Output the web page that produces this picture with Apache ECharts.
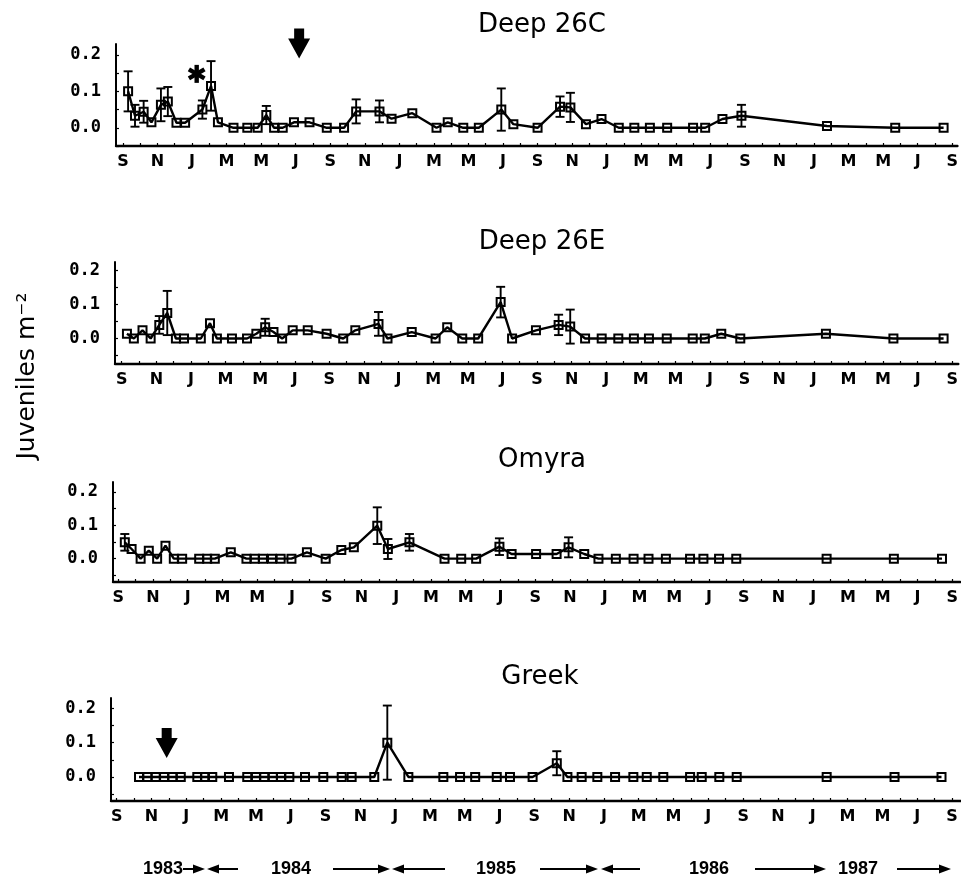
<!DOCTYPE html>
<html><head><meta charset="utf-8">
<script src="https://cdn.jsdelivr.net/npm/echarts@6/dist/echarts.min.js"></script>
<style>html,body{margin:0;padding:0;background:#fff}#c{width:961px;height:884px}</style>
</head><body><div id="c"></div>
<script>
// ---------- DATA ----------
// x = months since September 1983 (0 = S 1983, 48 = S 1987)
const monthLabels = ['S','N','J','M','M','J','S','N','J','M','M','J','S','N','J','M','M','J','S','N','J','M','M','J','S'];
const monthTickValues = Array.from({length: 49}, (_, i) => i);
const monthLabelValues = Array.from({length: 25}, (_, i) => i * 2);
const yLabelValues = [0, 0.1, 0.2];
const yTickValues = [-0.05, 0, 0.05, 0.1, 0.15, 0.2];
const siteNames = ['Deep 26C', 'Deep 26E', 'Omyra', 'Greek'];
const yearLabels = ['1983', '1984', '1985', '1986', '1987'];
const yAxisTitle = 'Juveniles m⁻²';

const deep26cMonths = [0.3,0.7,1.2,1.65,2.2,2.6,3.1,3.6,4.6,5.1,5.5,6.4,7.2,7.8,8.3,8.75,9.25,9.9,10.8,11.8,12.8,13.5,14.85,15.55,16.75,18.15,18.8,19.7,20.6,21.9,22.6,24.0,25.3,25.9,26.8,27.7,28.7,29.6,30.5,31.5,33.0,33.7,34.7,35.8,40.75,44.7,47.5];
const deep26cValues = [0.10,0.033,0.044,0.015,0.063,0.072,0.014,0.014,0.05,0.115,0.015,0,0,0,0.035,0,0,0.015,0.015,0,0,0.045,0.045,0.025,0.04,0,0.015,0,0,0.05,0.01,0,0.058,0.056,0.01,0.024,0,0,0,0,0,0,0.024,0.033,0.005,0,0];
const deep26cErrors = [0.055,0.03,0.03,0,0.045,0.04,0,0,0.025,0.068,0,0,0,0,0.025,0,0,0,0,0,0,0.033,0.03,0,0,0,0,0,0,0.058,0,0,0.028,0.04,0,0,0,0,0,0,0,0,0,0.03,0,0,0];

const deep26eMonths = [0.3,0.7,1.2,1.67,2.17,2.63,3.13,3.6,4.57,5.1,5.5,6.37,7.24,7.78,8.29,8.77,9.27,9.88,10.75,11.84,12.8,13.5,14.84,15.36,16.76,18.14,18.81,19.68,20.6,21.9,22.56,23.94,25.25,25.92,26.78,27.74,28.7,29.6,30.47,31.5,33.0,33.7,34.65,35.75,40.7,44.6,47.5];
const deep26eValues = [0.014,0,0.024,0,0.04,0.075,0,0,0,0.045,0,0,0,0.014,0.033,0.019,0,0.024,0.024,0.014,0,0.024,0.043,0,0.019,0,0.033,0,0,0.107,0,0.024,0.04,0.035,0,0,0,0,0,0,0,0,0.014,0,0.014,0,0];
const deep26eErrors = [0,0,0,0,0.026,0.065,0,0,0,0,0,0,0,0,0.025,0,0,0,0,0,0,0,0.035,0,0,0,0,0,0,0.045,0,0,0.03,0.05,0,0,0,0,0,0,0,0,0,0,0,0,0];

const omyraMonths = [0.38,0.77,1.29,1.76,2.24,2.72,3.2,3.68,4.66,5.12,5.56,6.48,7.38,7.86,8.33,8.85,9.35,9.97,10.86,11.94,12.84,13.56,14.91,15.52,16.76,18.78,19.74,20.6,21.94,22.64,24.05,25.23,25.92,26.82,27.64,28.64,29.66,30.52,31.52,32.91,33.68,34.58,35.57,40.77,44.64,47.41];
const omyraValues = [0.049,0.029,0,0.024,0,0.039,0,0,0,0,0,0.019,0,0,0,0,0,0,0.019,0,0.026,0.034,0.099,0.029,0.049,0,0,0,0.036,0.014,0.014,0.014,0.034,0.014,0,0,0,0,0,0,0,0,0,0,0,0];
const omyraErrors = [0.025,0,0,0,0,0,0,0,0,0,0,0,0,0,0,0,0,0,0,0,0,0,0.055,0.03,0.025,0,0,0,0.025,0,0,0,0.03,0,0,0,0,0,0,0,0,0,0,0,0,0];

const greekMonths = [1.28,1.76,2.24,2.72,3.2,3.68,4.63,5.07,5.49,6.45,7.5,8.0,8.48,8.97,9.44,9.92,10.82,11.87,12.93,13.5,14.8,15.55,16.76,18.77,19.73,20.6,21.84,22.6,23.9,25.29,25.9,26.72,27.62,28.64,29.69,30.46,31.41,32.95,33.62,34.63,35.63,40.8,44.7,47.4];
const greekValues = [0,0,0,0,0,0,0,0,0,0,0,0,0,0,0,0,0,0,0,0,0,0.1,0,0,0,0,0,0,0,0.04,0,0,0,0,0,0,0,0,0,0,0,0,0,0];
const greekErrors = [0,0,0,0,0,0,0,0,0,0,0,0,0,0,0,0,0,0,0,0,0,0.108,0,0,0,0,0,0,0,0.035,0,0,0,0,0,0,0,0,0,0,0,0,0,0];

const siteMonths = [deep26cMonths, deep26eMonths, omyraMonths, greekMonths];
const siteValues = [deep26cValues, deep26eValues, omyraValues, greekValues];
const siteErrors = [deep26cErrors, deep26eErrors, omyraErrors, greekErrors];

// ---------- LAYOUT ----------
const panels = [
  {left:116, top:44,  height:102, xmin:-0.40, xmax:48.30, ymin:-0.05, ymax:0.23, titleX:537, titleY:22},
  {left:115, top:262, height:102, xmin:-0.39, xmax:48.35, ymin:-0.075, ymax:0.225, titleX:537, titleY:239},
  {left:113, top:482, height:100, xmin:-0.30, xmax:48.46, ymin:-0.07, ymax:0.23, titleX:537, titleY:457},
  {left:111, top:698, height:103, xmin:-0.33, xmax:48.52, ymin:-0.07, ymax:0.23, titleX:535, titleY:674}
];

const chart = echarts.init(document.getElementById('c'), null, {renderer:'canvas'});

const grids = [], xAxes = [], yAxes = [], series = [], titles = [];
panels.forEach((p, i) => {
  grids.push({left:p.left, top:p.top, height:p.height, right:0, containLabel:false});
  titles.push({text:siteNames[i], left:p.titleX, top:p.titleY - 15, textAlign:'center',
    textStyle:{fontFamily:'DejaVu Sans', fontWeight:'normal', fontSize:26, color:'#000'}});
  xAxes.push({type:'value', gridIndex:i, min:p.xmin, max:p.xmax, position:'bottom',
    axisLine:{onZero:false, lineStyle:{color:'#000', width:2.4}},
    axisTick:{show:true, inside:true, length:3, customValues:monthTickValues, lineStyle:{color:'#000', width:1.2}},
    axisLabel:{customValues:monthLabelValues, formatter:v => monthLabels[Math.round(v/2)],
      fontFamily:'DejaVu Sans', fontWeight:'bold', fontSize:16, color:'#000', margin:8},
    splitLine:{show:false}});
  yAxes.push({type:'value', gridIndex:i, min:p.ymin, max:p.ymax,
    axisLine:{show:true, onZero:false, lineStyle:{color:'#000', width:2}},
    axisTick:{show:true, inside:true, length:3, customValues:yTickValues, lineStyle:{color:'#000', width:1.2}},
    axisLabel:{customValues:yLabelValues, formatter:v => v.toFixed(1),
      fontFamily:'DejaVu Sans Mono', fontWeight:'bold', fontSize:17, color:'#000', margin:15},
    splitLine:{show:false}});
  const m = siteMonths[i], v = siteValues[i], e = siteErrors[i];
  series.push({type:'line', xAxisIndex:i, yAxisIndex:i, data:m.map((x, k) => [x, v[k]]),
    symbol:'rect', symbolSize:8, showAllSymbol:true, clip:false,
    lineStyle:{color:'#000', width:2.4},
    itemStyle:{color:'rgba(255,255,255,0)', borderColor:'#000', borderWidth:2},
    z:3});
  series.push({type:'custom', xAxisIndex:i, yAxisIndex:i,
    data:m.map((x, k) => [x, v[k], e[k]]).filter(d => d[2] > 0),
    renderItem:(params, api) => {
      const x = api.value(0), val = api.value(1), err = api.value(2);
      const t = api.coord([x, val + err]), b = api.coord([x, val - err]);
      const w = 4.5, st = {stroke:'#000', lineWidth:1.9};
      return {type:'group', children:[
        {type:'line', shape:{x1:t[0], y1:t[1], x2:b[0], y2:b[1]}, style:st},
        {type:'line', shape:{x1:t[0]-w, y1:t[1], x2:t[0]+w, y2:t[1]}, style:st},
        {type:'line', shape:{x1:b[0]-w, y1:b[1], x2:b[0]+w, y2:b[1]}, style:st}
      ]};
    }, z:2});
});

chart.setOption({animation:false, backgroundColor:'#fff', title:titles, grid:grids, xAxis:xAxes, yAxis:yAxes, series:series});

// ---------- ANNOTATIONS ----------
const g = [];
function downArrow(tip) {
  const [x, y] = tip;
  return {type:'polygon', shape:{points:[[x-5,y-30],[x+5,y-30],[x+5,y-20],[x+11,y-20],[x,y],[x-11,y-20],[x-5,y-20]]},
    style:{fill:'#000'}};
}
g.push(downArrow(chart.convertToPixel({gridIndex:0}, [10.2, 0.19])));
g.push(downArrow(chart.convertToPixel({gridIndex:3}, [2.87, 0.055])));
const ast = chart.convertToPixel({gridIndex:0}, [4.27, 0.148]);
const astArms = [0, Math.PI/3, -Math.PI/3].map(a => {
  const pts = [[-2.2,-9],[2.2,-9],[2.2,9],[-2.2,9]].map(([px,py]) =>
    [ast[0] + px*Math.cos(a) - py*Math.sin(a), ast[1] + px*Math.sin(a) + py*Math.cos(a)]);
  return {type:'polygon', shape:{points:pts}, style:{fill:'#000'}};
});
g.push(...astArms);

g.push({type:'text', style:{text:yAxisTitle, x:0, y:0, fontFamily:'DejaVu Sans', fontSize:25, fill:'#000',
  align:'center', verticalAlign:'middle'}, x:27, y:376, rotation:Math.PI/2});

// year row
const yr = 869;
const yearX = [163, 291, 496, 709, 858];
yearLabels.forEach((t, i) => g.push({type:'text', style:{text:t, x:yearX[i], y:yr, fontFamily:'Liberation Sans',
  fontWeight:'bold', fontSize:18, fill:'#000', align:'center', verticalAlign:'middle'}}));
function hline(x1, x2) { return {type:'line', shape:{x1, y1:yr, x2, y2:yr}, style:{stroke:'#000', lineWidth:2}}; }
function headR(x) { return {type:'polygon', shape:{points:[[x,yr],[x-12,yr-4.5],[x-12,yr+4.5]]}, style:{fill:'#000'}}; }
function headL(x) { return {type:'polygon', shape:{points:[[x,yr],[x+12,yr-4.5],[x+12,yr+4.5]]}, style:{fill:'#000'}}; }
const arrowSegs = [[183,205,207,238],[333,390,392,445],[540,598,601,640],[755,826,null,null],[897,951,null,null]];
arrowSegs.forEach(([a, b, c, d]) => {
  g.push(hline(a, b - 3)); g.push(headR(b));
  if (c !== null) { g.push(headL(c)); g.push(hline(c + 3, d)); }
});
chart.setOption({graphic:g});
</script></body></html>
